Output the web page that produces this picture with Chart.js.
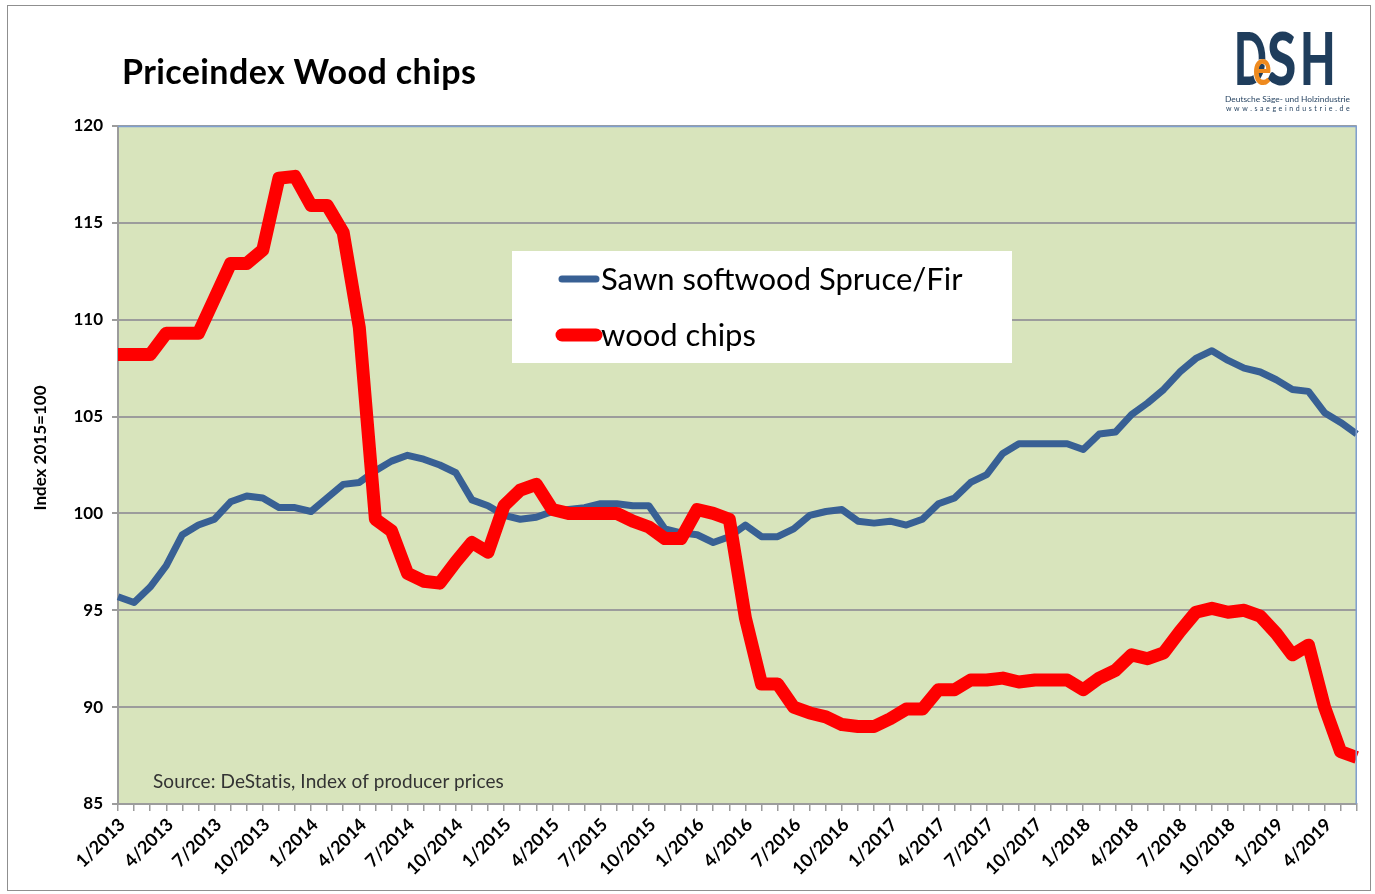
<!DOCTYPE html>
<html>
<head>
<meta charset="utf-8">
<title>Priceindex Wood chips</title>
<script src="https://cdn.jsdelivr.net/npm/chart.js@4.4.1/dist/chart.umd.min.js"></script>
<style>
    html, body { margin: 0; padding: 0; background: #fff; }
    #wrap { position: relative; width: 1375px; height: 894px; overflow: hidden; font-family: Lato, sans-serif; }
    #frame { position: absolute; left: 7px; top: 5px; width: 1362px; height: 884px; border: 1px solid #8f8f8f; pointer-events: none; }
    canvas { position: absolute; left: 0; top: 0; }
    .txt { position: absolute; white-space: nowrap; line-height: 1; }
    #title { left: 122px; top: 54px; font-size: 34px; font-weight: 700; color: #000; letter-spacing: 0.4px; }
    #ytitle { left: 39px; top: 448px; font-size: 17px; font-weight: 700; color: #000; transform: translate(-50%, -50%) rotate(-90deg); }
    #source { left: 153px; top: 771px; font-size: 19px; color: #333; letter-spacing: 0.1px; }
    .logo { position: absolute; white-space: nowrap; line-height: 1; font-weight: 900; transform-origin: left top; }
    .navy { color: #1f3d5c; font-size: 72px; top: 21px; }
    #logoE { left: 1253px; top: 42px; font-size: 49px; color: #ee8a1f; transform: scaleX(0.7); text-shadow: -1px 0 #fff; }
    #logoSub1 { left: 1225px; top: 95px; font-size: 8.4px; color: #1f3d5c; }
    #logoSub2 { left: 1226px; top: 105px; font-size: 7px; color: #1f3d5c; letter-spacing: 2.6px; }
</style>
</head>
<body>
<div id="wrap">
    <canvas id="priceChart" width="1375" height="894"></canvas>
    <div id="frame"></div>
    <div class="txt" id="title">Priceindex Wood chips</div>
    <div class="txt" id="ytitle">Index 2015=100</div>
    <div class="txt" id="source">Source: DeStatis, Index of producer prices</div>
    <span class="logo navy" style="left:1234px; transform: scaleX(0.6);">D</span>
    <span class="logo" id="logoE">e</span>
    <span class="logo navy" style="left:1267px; transform: scaleX(0.74);">S</span>
    <span class="logo navy" style="left:1300px; transform: scaleX(0.64);">H</span>
    <div class="txt" id="logoSub1">Deutsche Säge- und Holzindustrie</div>
    <div class="txt" id="logoSub2">www.saegeindustrie.de</div>
</div>
<script>
// months 1/2013 .. 6/2019
const years = [2013, 2014, 2015, 2016, 2017, 2018, 2019];
const lastMonth2019 = 6;
const months = [];
years.forEach(y => {
    const end = y === 2019 ? lastMonth2019 : 12;
    for (let m = 1; m <= end; m++) months.push(m + '/' + y);
});

const sawnSoftwood = [
    95.7, 95.4, 96.2, 97.3, 98.9, 99.4, 99.7, 100.6, 100.9, 100.8, 100.3, 100.3,    // 2013
    100.1, 100.8, 101.5, 101.6, 102.2, 102.7, 103.0, 102.8, 102.5, 102.1, 100.7, 100.4, // 2014
    99.9, 99.7, 99.8, 100.1, 100.2, 100.3, 100.5, 100.5, 100.4, 100.4, 99.2, 99.0,   // 2015
    98.9, 98.5, 98.8, 99.4, 98.8, 98.8, 99.2, 99.9, 100.1, 100.2, 99.6, 99.5,        // 2016
    99.6, 99.4, 99.7, 100.5, 100.8, 101.6, 102.0, 103.1, 103.6, 103.6, 103.6, 103.6, // 2017
    103.3, 104.1, 104.2, 105.1, 105.7, 106.4, 107.3, 108.0, 108.4, 107.9, 107.5, 107.3, // 2018
    106.9, 106.4, 106.3, 105.2, 104.7, 104.1                                        // 2019
];

const woodChips = [
    108.2, 108.2, 108.2, 109.3, 109.3, 109.3, 111.1, 112.9, 112.9, 113.6, 117.3, 117.4, // 2013
    115.9, 115.9, 114.5, 109.6, 99.7, 99.1, 96.9, 96.5, 96.4, 97.5, 98.5, 98.0,        // 2014
    100.4, 101.2, 101.5, 100.2, 100.0, 100.0, 100.0, 100.0, 99.6, 99.3, 98.7, 98.7,    // 2015
    100.2, 100.0, 99.7, 94.6, 91.2, 91.2, 90.0, 89.7, 89.5, 89.1, 89.0, 89.0,          // 2016
    89.4, 89.9, 89.9, 90.9, 90.9, 91.4, 91.4, 91.5, 91.3, 91.4, 91.4, 91.4,            // 2017
    90.9, 91.5, 91.9, 92.7, 92.5, 92.8, 93.9, 94.9, 95.1, 94.9, 95.0, 94.7,            // 2018
    93.8, 92.7, 93.2, 90.0, 87.7, 87.4                                                 // 2019
];

const yTicks = [85, 90, 95, 100, 105, 110, 115, 120];
const seriesNames = ['Sawn softwood Spruce/Fir', 'wood chips'];

const gridGray = '#9c9c9c';

// plot area background + top/right border
const plotArea = {
    id: 'plotArea',
    beforeDraw(chart) {
        const { ctx, chartArea: a } = chart;
        ctx.save();
        ctx.fillStyle = '#d8e4bc';
        ctx.fillRect(a.left, a.top, a.right - a.left, a.bottom - a.top);
        ctx.restore();
    },
    afterDraw(chart) {
        const { ctx, chartArea: a } = chart;
        ctx.save();
        ctx.strokeStyle = '#7f9fcf';
        ctx.lineWidth = 1.5;
        ctx.beginPath();
        ctx.moveTo(a.left, a.top + 0.5);
        ctx.lineTo(a.right - 0.5, a.top + 0.5);
        ctx.lineTo(a.right - 0.5, a.bottom);
        ctx.stroke();
        ctx.restore();
    }
};

// legend box inside the plot
const insideLegend = {
    id: 'insideLegend',
    afterDatasetsDraw(chart) {
        const ctx = chart.ctx;
        ctx.save();
        ctx.fillStyle = '#ffffff';
        ctx.fillRect(512, 251, 500, 112);
        const rows = [290, 346];
        chart.data.datasets.forEach((ds, i) => {
            const y = rows[i];
            ctx.strokeStyle = ds.borderColor;
            ctx.lineWidth = ds.borderWidth;
            ctx.lineCap = 'round';
            ctx.beginPath();
            ctx.moveTo(562, y - 11);
            ctx.lineTo(596, y - 11);
            ctx.stroke();
            ctx.fillStyle = '#000';
            ctx.font = '31px Lato';
            ctx.textBaseline = 'alphabetic';
            ctx.fillText(ds.label, 601, y);
        });
        ctx.restore();
    }
};

const ctx = document.getElementById('priceChart').getContext('2d');
new Chart(ctx, {
    type: 'line',
    data: {
        labels: months,
        datasets: [{
            label: seriesNames[0],
            data: sawnSoftwood,
            borderColor: '#386094',
            borderWidth: 7,
            borderJoinStyle: 'round',
            pointRadius: 0,
            tension: 0,
            order: 1
        }, {
            label: seriesNames[1],
            data: woodChips,
            borderColor: '#ff0000',
            borderWidth: 13,
            borderJoinStyle: 'round',
            pointRadius: 0,
            tension: 0,
            order: 0
        }]
    },
    options: {
        responsive: false,
        animation: false,
        layout: { padding: { left: 0, top: 126, right: 17, bottom: 0 } },
        plugins: {
            legend: { display: false },
            tooltip: { enabled: false },
            title: { display: false }
        },
        scales: {
            x: {
                type: 'category',
                offset: false,
                afterFit: function(scale) { scale.height = 90; },
                grid: { drawOnChartArea: false, drawTicks: true, tickLength: 7, color: gridGray, lineWidth: 1.5 },
                border: { display: true, color: gridGray, width: 2 },
                ticks: {
                    autoSkip: false,
                    maxRotation: 45,
                    minRotation: 45,
                    padding: 3,
                    labelOffset: 4,
                    color: '#000',
                    font: { family: 'Lato', size: 18, weight: 'bold' },
                    callback: function(value, index) {
                        return index % 3 === 0 ? months[index] : '';
                    }
                }
            },
            y: {
                min: 85,
                max: 120,
                afterFit: function(scale) { scale.width = 118; },
                afterBuildTicks: function(scale) { scale.ticks = yTicks.map(v => ({ value: v })); },
                grid: { color: gridGray, lineWidth: 2, tickLength: 6 },
                border: { display: true, color: gridGray, width: 2 },
                ticks: {
                    padding: 9,
                    color: '#000',
                    font: { family: 'Lato', size: 17, weight: 'bold' }
                }
            }
        }
    },
    plugins: [plotArea, insideLegend]
});
</script>
</body>
</html>
